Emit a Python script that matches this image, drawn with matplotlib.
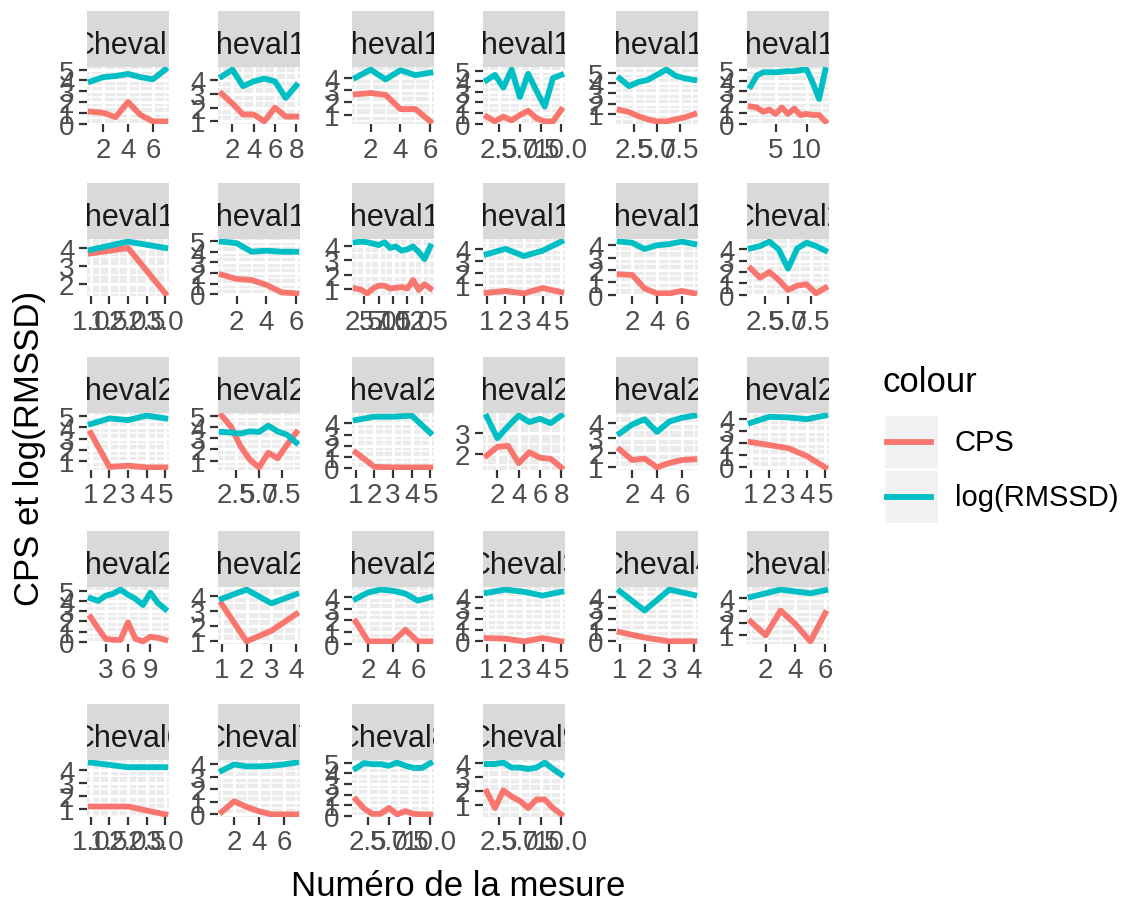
import matplotlib
matplotlib.use("Agg")
import matplotlib.pyplot as plt
from matplotlib.ticker import MultipleLocator, AutoMinorLocator, FormatStrFormatter
from matplotlib.patches import Rectangle

plt.rcParams['font.family'] = ['Liberation Sans', 'DejaVu Sans']

# facets in ggplot's alphabetical order
horses = ['Cheval1', 'Cheval10', 'Cheval11', 'Cheval12', 'Cheval13', 'Cheval14',
          'Cheval15', 'Cheval16', 'Cheval17', 'Cheval18', 'Cheval19', 'Cheval2',
          'Cheval20', 'Cheval21', 'Cheval22', 'Cheval23', 'Cheval24', 'Cheval25',
          'Cheval26', 'Cheval27', 'Cheval28', 'Cheval3', 'Cheval4', 'Cheval5',
          'Cheval6', 'Cheval7', 'Cheval8', 'Cheval9']

cps = [
    [1.1, 1.0, 0.6, 2.0, 0.8, 0.2, 0.2],
    [3.0, 2.3, 1.5, 1.5, 1.0, 2.0, 1.35, 1.35],
    [2.65, 2.75, 2.6, 1.45, 1.45, 0.45],
    [0.65, 0.2, 0.65, 0.3, 0.8, 1.2, 0.5, 0.2, 0.2, 1.3],
    [1.4, 1.2, 0.8, 0.5, 0.3, 0.3, 0.5, 0.7, 1.0],
    [1.6, 1.5, 1.1, 1.3, 0.9, 1.5, 0.9, 1.4, 0.8, 0.9, 0.8, 0.8, 0.2],
    [3.7, 4.0, 1.5],
    [1.85, 1.45, 1.35, 0.9, 0.2, 0.1],
    [1.0, 0.9, 0.65, 1.0, 1.2, 1.2, 1.0, 1.05, 1.1, 1.0, 1.6, 0.9, 1.3, 1.0],
    [0.35, 0.5, 0.3, 0.75, 0.4],
    [1.65, 1.6, 0.5, 0.1, 0.1, 0.3, 0.1],
    [2.3, 1.5, 2.0, 1.3, 0.4, 0.8, 0.9, 0.1, 0.6],
    [3.5, 0.5, 0.6, 0.45, 0.45],
    [5.0, 4.0, 2.3, 1.1, 0.4, 1.7, 1.2, 2.4, 3.5],
    [1.4, 0.1, 0.05, 0.05, 0.05],
    [1.95, 2.35, 2.4, 1.6, 2.1, 1.85, 1.8, 1.4],
    [2.2, 1.5, 1.6, 1.0, 1.3, 1.5, 1.55],
    [2.1, 1.85, 1.6, 0.95, 0.0],
    [2.4, 1.3, 0.3, 0.2, 0.2, 1.9, 0.3, 0.05, 0.5, 0.4, 0.2],
    [3.45, 1.0, 1.7, 2.8],
    [1.9, 0.2, 0.2, 0.2, 1.2, 0.2, 0.2],
    [0.3, 0.25, 0.0, 0.3, 0.0],
    [0.85, 0.35, 0.0, 0.0],
    [2.1, 1.0, 3.0, 1.9, 0.5, 2.8],
    [1.2, 1.2, 0.6],
    [0.2, 1.05, 0.6, 0.25, 0.0, 0.0, 0.0],
    [1.55, 0.7, 0.2, 0.2, 0.75, 0.15, 0.45, 0.2, 0.15, 0.15],
    [1.95, 0.8, 2.05, 1.6, 1.3, 0.8, 1.4, 1.4, 0.8, 0.35],
]

log_rmssd = [
    [3.9, 4.3, 4.4, 4.6, 4.3, 4.1, 5.0],
    [4.25, 4.75, 3.55, 3.9, 4.1, 3.9, 2.7, 3.6],
    [4.0, 4.65, 3.85, 4.6, 4.2, 4.4],
    [4.1, 4.6, 3.4, 5.1, 2.5, 4.7, 3.1, 1.6, 4.3, 4.6],
    [4.45, 3.7, 4.1, 4.3, 4.8, 5.3, 4.7, 4.45, 4.3],
    [3.5, 4.5, 4.8, 4.8, 4.8, 4.85, 4.9, 4.9, 5.0, 5.05, 3.8, 2.3, 5.0],
    [3.9, 4.35, 4.0],
    [4.95, 4.8, 4.0, 4.1, 4.0, 4.0],
    [4.3, 4.35, 4.3, 4.2, 4.1, 4.3, 3.9, 4.0, 3.7, 3.8, 4.0, 3.6, 3.1, 4.0],
    [3.55, 4.0, 3.4, 3.85, 4.6],
    [4.3, 4.2, 3.7, 4.0, 4.1, 4.3, 4.1],
    [4.1, 4.3, 4.7, 4.0, 2.3, 4.1, 4.6, 4.3, 3.9],
    [4.3, 4.8, 4.65, 5.05, 4.8],
    [3.55, 3.5, 3.4, 3.6, 3.55, 4.1, 3.6, 3.3, 2.6],
    [4.3, 4.6, 4.6, 4.7, 3.15],
    [3.75, 2.75, 3.3, 3.8, 3.5, 3.65, 3.45, 3.8],
    [3.3, 3.9, 4.25, 3.4, 4.1, 4.35, 4.5],
    [3.7, 4.2, 4.15, 4.0, 4.3],
    [4.25, 4.0, 4.5, 4.7, 5.1, 4.6, 4.2, 3.6, 4.8, 3.8, 3.2],
    [3.8, 4.4, 3.5, 4.1],
    [3.85, 4.4, 4.65, 4.55, 4.3, 3.7, 4.0],
    [4.4, 4.7, 4.5, 4.15, 4.5],
    [4.55, 2.8, 4.7, 4.2],
    [4.1, 4.4, 4.7, 4.55, 4.4, 4.65],
    [4.55, 4.2, 4.2],
    [3.5, 4.0, 3.85, 3.85, 3.9, 4.0, 4.15],
    [4.45, 4.95, 4.85, 4.85, 4.7, 5.0, 4.7, 4.5, 4.5, 4.95],
    [3.9, 3.9, 4.0, 3.65, 3.65, 3.55, 3.65, 4.0, 3.55, 3.15],
]

# spacing of the x breaks chosen by ggplot for each facet
x_step = [2, 2, 2, 2.5, 2.5, 5,
          0.5, 2, 2.5, 1, 2, 2.5,
          1, 2.5, 1, 2, 2, 1,
          3, 1, 2, 1, 1, 2,
          0.5, 2, 2.5, 2.5]

RED = '#F8766D'
TEAL = '#00BFC4'

W, H = 1122, 904
fig = plt.figure(figsize=(W / 100, H / 100), dpi=100)

col_left = [87, 218, 352, 483, 616, 747]
row_top = [12, 184, 358, 532, 705]
pw, sh, ph = 82, 56, 57

for i, name in enumerate(horses):
    r, c = divmod(i, 6)
    x0, top = col_left[c], row_top[r]
    ax = fig.add_axes([x0 / W, 1 - (top + sh + ph) / H, pw / W, ph / H])
    st = fig.add_axes([x0 / W, 1 - (top + sh) / H, pw / W, sh / H])

    # strip, text clipped to the grey box like ggplot does
    st.set_facecolor('#D9D9D9')
    st.set_xticks([])
    st.set_yticks([])
    for s in st.spines.values():
        s.set_visible(False)
    st.text(0.5, 0.4, name, ha='center', va='center', fontsize=22,
            color='#1A1A1A', transform=st.transAxes, clip_on=True)

    n = len(cps[i])
    xs = list(range(1, n + 1))
    ax.plot(xs, cps[i], color=RED, lw=4.2, solid_joinstyle='round')
    ax.plot(xs, log_rmssd[i], color=TEAL, lw=4.2, solid_joinstyle='round')

    lo = min(min(cps[i]), min(log_rmssd[i]))
    hi = max(max(cps[i]), max(log_rmssd[i]))
    ax.set_ylim(lo - 0.05 * (hi - lo), hi + 0.05 * (hi - lo))
    ax.set_xlim(1 - 0.05 * (n - 1), n + 0.05 * (n - 1))

    ax.set_facecolor('#EBEBEB')
    for s in ax.spines.values():
        s.set_visible(False)
    ax.xaxis.set_major_locator(MultipleLocator(x_step[i]))
    ax.xaxis.set_minor_locator(AutoMinorLocator(2))
    ax.yaxis.set_major_locator(MultipleLocator(1))
    ax.yaxis.set_minor_locator(AutoMinorLocator(2))
    if x_step[i] != int(x_step[i]):
        ax.xaxis.set_major_formatter(FormatStrFormatter('%.1f'))
    else:
        ax.xaxis.set_major_formatter(FormatStrFormatter('%d'))
    ax.grid(which='major', color='white', lw=2.2)
    ax.grid(which='minor', color='white', lw=1.1)
    ax.set_axisbelow(True)
    ax.tick_params(which='major', length=6, width=1.6, color='#333333',
                   labelsize=20, labelcolor='#4D4D4D', pad=3)
    ax.tick_params(which='minor', length=0)

fig.text(458 / W, 1 - 887 / H, 'Numéro de la mesure', ha='center', va='center',
         fontsize=25, color='black')
fig.text(30 / W, 1 - 448 / H, 'CPS et log(RMSSD)', ha='center', va='center',
         rotation=90, fontsize=25, color='black')

# legend
lg = fig.add_axes([0, 0, 1, 1], facecolor='none')
lg.set_xlim(0, W)
lg.set_ylim(H, 0)
lg.axis('off')
lg.text(883, 383, 'colour', ha='left', va='center', fontsize=25, color='black')
for k, (lab, col) in enumerate([('CPS', RED), ('log(RMSSD)', TEAL)]):
    y0 = 417 + k * 55
    lg.add_patch(Rectangle((885, y0), 53, 52, facecolor='#F2F2F2', edgecolor='none'))
    lg.plot([887, 931], [y0 + 26, y0 + 26], color=col, lw=4.2)
    lg.text(955, y0 + 26, lab, ha='left', va='center', fontsize=21, color='black')

fig.savefig('out.png', dpi=100)
